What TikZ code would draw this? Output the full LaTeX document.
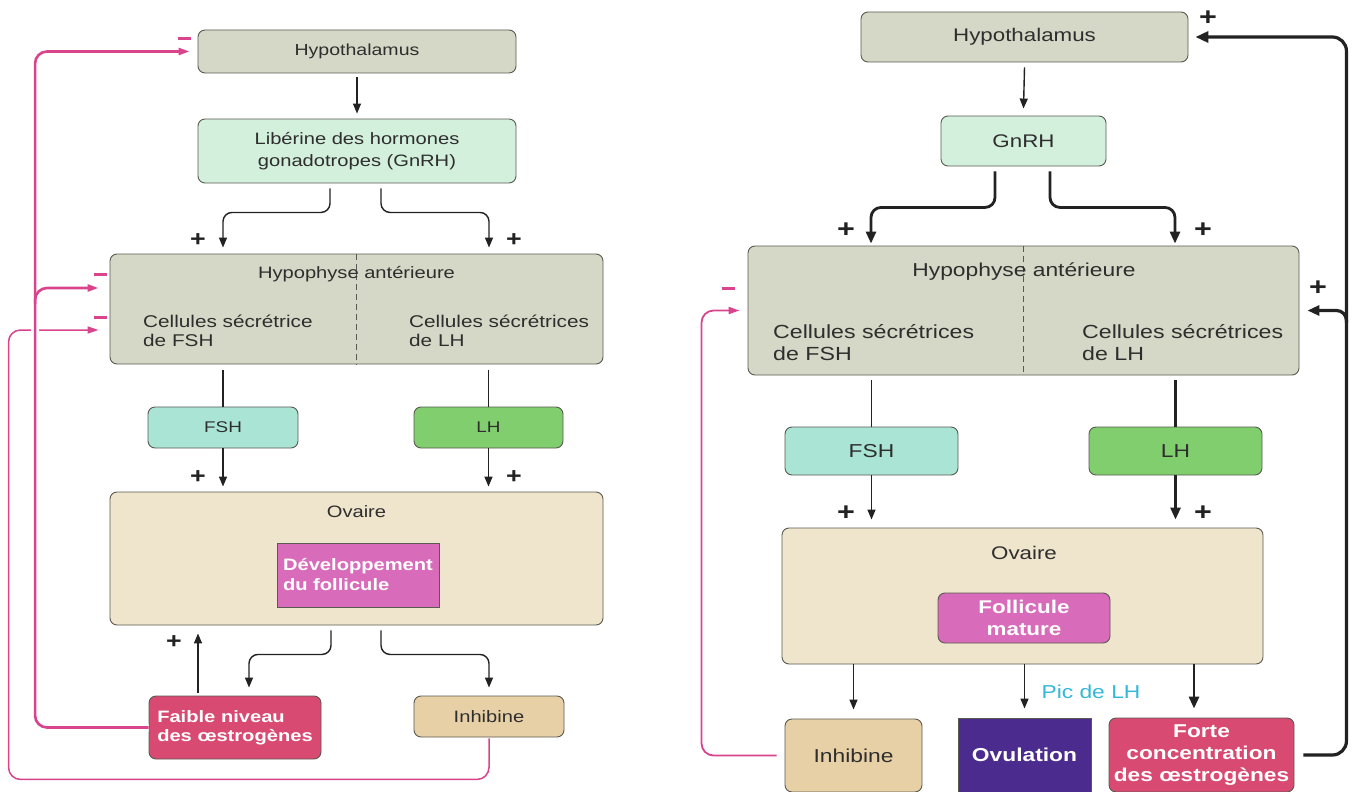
\documentclass[tikz,border=0pt]{standalone}
\usepackage{fontspec}
\setmainfont{Liberation Sans}[FakeStretch=1.22]
\usetikzlibrary{arrows.meta,calc}
\definecolor{hypc}{HTML}{D5D8C6}
\definecolor{gnc}{HTML}{D3F0DC}
\definecolor{fshc}{HTML}{A9E4D5}
\definecolor{lhc}{HTML}{80CE6E}
\definecolor{ovc}{HTML}{EFE4CC}
\definecolor{devc}{HTML}{D86CBA}
\definecolor{faic}{HTML}{D94A72}
\definecolor{inhc}{HTML}{E8D0A6}
\definecolor{ovuc}{HTML}{4B2C8E}
\definecolor{pinkc}{HTML}{D9448C}
\definecolor{picc}{HTML}{35B8D8}
\definecolor{boxline}{HTML}{5A5A52}
\definecolor{textc}{HTML}{2E2E2E}
\definecolor{linec}{HTML}{222222}
\newcommand\fsz[2]{\fontsize{#1}{#2}\selectfont}
\begin{document}
\begin{tikzpicture}[x=1pt,y=-1pt,
  box/.style={draw=boxline, line width=0.9pt, rounded corners=7pt, inner sep=0pt, text=textc},
  sqbox/.style={draw=boxline, line width=0.9pt, inner sep=0pt},
  lbl/.style={inner sep=0pt, text=textc},
  divider/.style={draw=boxline, line width=0.8pt, dash pattern=on 6pt off 4pt},
  plainln/.style={draw=linec, line width=1.4pt},
  plainthick/.style={draw=linec, line width=3pt},
  arr/.style={draw=linec, line width=1.4pt, -{Triangle[length=10pt,width=8pt]}},
  arrT/.style={draw=linec, line width=2.8pt, -{Triangle[length=12pt,width=10pt]}},
  pinkthick/.style={draw=pinkc, line width=2.6pt, rounded corners=12pt, -{Triangle[length=11pt,width=7pt]}},
  pinkthin/.style={draw=pinkc, line width=1.5pt, rounded corners=12pt, -{Triangle[length=11pt,width=7pt]}},
  plus/.style={inner sep=0pt, text=linec, font=\bfseries\fsz{22}{22}},
  plusR/.style={inner sep=0pt, text=linec, font=\bfseries\fsz{25}{25}},
  minus/.style={inner sep=0pt, fill=pinkc, minimum width=13pt, minimum height=3pt}
]
\useasboundingbox[fill=white] (0,0) rectangle (1366,792);

% ================= LEFT =================
\node[box, fill=hypc, minimum width=318pt, minimum height=43pt, font=\fsz{16}{19}] (hypL) at (357,51.5) {Hypothalamus};
\node[box, fill=gnc, minimum width=318pt, minimum height=64pt, align=center, font=\fsz{16.5}{21.5}] (libL) at (357,151) {Libérine des hormones\\gonadotropes (GnRH)};
\node[box, fill=hypc, minimum width=493pt, minimum height=110pt] (hpL) at (356.5,309) {};
\draw[divider] (hpL.north) -- (hpL.south);
\node[lbl, font=\fsz{16.5}{20}] (hpLt) at (356.5,274) {Hypophyse antérieure};
\node[lbl, anchor=west, align=left, font=\fsz{17}{18.5}] (hpLa) at (143,331) {Cellules sécrétrice\\de FSH};
\node[lbl, anchor=west, align=left, font=\fsz{17}{18.5}] (hpLb) at (409,331) {Cellules sécrétrices\\de LH};
\node[box, fill=fshc, minimum width=150pt, minimum height=41pt, font=\fsz{15.5}{18}] (fshL) at (223,427.5) {FSH};
\node[box, fill=lhc, minimum width=149pt, minimum height=41pt, font=\fsz{15.5}{18}] (lhL) at (488.5,427.5) {LH};
\node[box, fill=ovc, minimum width=493pt, minimum height=133pt] (ovL) at (356.5,558.5) {};
\node[lbl, font=\fsz{16.5}{20}] (ovLt) at (356.5,512) {Ovaire};
\node[sqbox, fill=devc, minimum width=162pt, minimum height=64pt, text=white, align=left, font=\bfseries\fsz{16.5}{20}] (devL) at (358,575) {Développement\\du follicule};
\node[box, fill=faic, minimum width=172pt, minimum height=63pt, text=white, align=left, font=\bfseries\fsz{16.5}{19}] (faiL) at (235,727.5) {Faible niveau\\des œstrogènes};
\node[box, fill=inhc, minimum width=150pt, minimum height=41pt, font=\fsz{16.5}{19}] (inhL) at (489,716.5) {Inhibine};

% connectors left
\draw[arr] ([yshift=-4pt]hypL.south) -- ([yshift=5pt]libL.north);
\draw[arr, rounded corners=9pt] ([xshift=-27pt,yshift=-5pt]libL.south) -- ++(0,24) -| ([xshift=-133.5pt,yshift=6pt]hpL.north);
\draw[arr, rounded corners=9pt] ([xshift=24pt,yshift=-5pt]libL.south) -- ++(0,24) -| ([xshift=132.5pt,yshift=6pt]hpL.north);
\node[plus] (pL1) at (198,240) {+};
\node[plus] (pL2) at (514,240) {+};
\draw[plainln] ([yshift=-6pt]hpL.south -| fshL.north) -- (fshL.north);
\draw[plainln] ([yshift=-6pt]hpL.south -| lhL.north) -- (lhL.north);
\draw[arr] (fshL.south) -- ([yshift=5pt]ovL.north -| fshL.south);
\draw[arr] (lhL.south) -- ([yshift=5pt]ovL.north -| lhL.south);
\node[plus] (pL3) at (198,477) {+};
\node[plus] (pL4) at (514,477) {+};
\coordinate (fupL) at ([xshift=-37pt,yshift=3pt]faiL.north);
\draw[arr] (fupL) -- ([yshift=-8pt]fupL |- ovL.south);
\node[plus] (pL5) at (174,642) {+};
\draw[arr, rounded corners=9pt] ([xshift=-25.5pt,yshift=-5pt]ovL.south) -- ++(0,24) -| ([xshift=14pt,yshift=8pt]faiL.north);
\draw[arr, rounded corners=9pt] ([xshift=24.5pt,yshift=-5pt]ovL.south) -- ++(0,24) -| ([yshift=8pt]inhL.north);

% pink feedback left
\draw[pinkthin] ([yshift=-1pt]inhL.south) -- ++(0,41) -| ([xshift=-101pt,yshift=-21pt]hpL.west) -- ([xshift=-11pt,yshift=-21pt]hpL.west);
\draw[pinkthick, preaction={draw=white, line width=8pt, -}] (faiL.west) -| ([xshift=-162.5pt]hypL.west) -- ([xshift=-8pt]hypL.west);
\draw[pinkthick] ([xshift=-74.5pt,yshift=5pt]hpL.west) |- ([xshift=-11pt,yshift=21pt]hpL.west);
\node[minus] (mL1) at (184,39) {};
\node[minus] (mL2) at (100,274) {};
\node[minus] (mL3) at (100,317) {};

% ================= RIGHT =================
\node[box, fill=hypc, minimum width=327pt, minimum height=50pt, font=\fsz{18.3}{21}] (hypR) at (1024.5,37) {Hypothalamus};
\node[box, fill=gnc, minimum width=165pt, minimum height=50pt, font=\fsz{18.3}{21}] (gnR) at (1023.5,141) {GnRH};
\node[box, fill=hypc, minimum width=551pt, minimum height=129pt] (hpR) at (1023.5,310.5) {};
\draw[divider] (hpR.north) -- (hpR.south);
\node[lbl, font=\fsz{18.7}{21}] (hpRt) at (1024,272) {Hypophyse antérieure};
\node[lbl, anchor=west, align=left, font=\fsz{19}{21.7}] (hpRa) at (773,342.5) {Cellules sécrétrices\\de FSH};
\node[lbl, anchor=west, align=left, font=\fsz{19}{21.7}] (hpRb) at (1082,342.5) {Cellules sécrétrices\\de LH};
\node[box, fill=fshc, minimum width=173pt, minimum height=48pt, font=\fsz{18.7}{21}] (fshR) at (871.5,451) {FSH};
\node[box, fill=lhc, minimum width=173pt, minimum height=48pt, font=\fsz{18.7}{21}] (lhR) at (1175.5,451) {LH};
\node[box, fill=ovc, minimum width=481pt, minimum height=136pt] (ovR) at (1022.5,596) {};
\node[lbl, font=\fsz{18.3}{21}] (ovRt) at (1024,553) {Ovaire};
\node[box, fill=devc, minimum width=172pt, minimum height=50pt, text=white, align=center, font=\bfseries\fsz{18.4}{21.3}] (folR) at (1024,618) {Follicule\\mature};
\node[box, fill=inhc, minimum width=137pt, minimum height=73pt, font=\fsz{18.7}{21}] (inhR) at (853.5,755.5) {Inhibine};
\node[sqbox, fill=ovuc, minimum width=133pt, minimum height=74pt, text=white, font=\bfseries\fsz{18.7}{21}] (ovuR) at (1024.5,755) {Ovulation};
\node[box, fill=faic, minimum width=185pt, minimum height=74pt, text=white, align=center, font=\bfseries\fsz{18.6}{22}] (forR) at (1201.5,755) {Forte\\concentration\\des œstrogènes};

% connectors right
\draw[arr] ([yshift=-5pt]hypR.south) -- ([yshift=7pt]gnR.north);
\draw[arrT, rounded corners=10pt] ([xshift=-28.5pt,yshift=-5pt]gnR.south) -- ++(0,36) -| ([xshift=-152.5pt,yshift=2pt]hpR.north);
\draw[arrT, rounded corners=10pt] ([xshift=26.5pt,yshift=-5pt]gnR.south) -- ++(0,36) -| ([xshift=151.5pt,yshift=2pt]hpR.north);
\node[plusR] (pR1) at (846,230) {+};
\node[plusR] (pR2) at (1203,230) {+};
\draw[plainln] ([yshift=-5pt]hpR.south -| fshR.north) -- (fshR.north);
\draw[plainthick] ([yshift=-5pt]hpR.south -| lhR.north) -- (lhR.north);
\draw[arr] (fshR.south) -- ([yshift=8pt]ovR.north -| fshR.south);
\draw[arrT] (lhR.south) -- ([yshift=8pt]ovR.north -| lhR.south);
\node[plusR] (pR3) at (846,513) {+};
\node[plusR] (pR4) at (1203,513) {+};
\draw[arr] (ovR.south -| inhR.north) -- ([yshift=9pt]inhR.north);
\draw[arr] (ovR.south -| ovuR.north) -- ([yshift=9pt]ovuR.north);
\draw[arrT] ([xshift=-7.5pt]ovR.south -| forR.north) -- ([xshift=-7.5pt,yshift=9pt]forR.north);
\node[inner sep=0pt, text=picc, font=\fsz{18.7}{21}] (pic) at (1091,692) {Pic de LH};

% feedback right
\draw[pinkthin, line width=1.8pt] ([xshift=-8pt]inhR.west) -| ([xshift=-46pt]hpR.west) -- ([xshift=-8pt]hpR.west);
\node[minus] (mR1) at (728,288) {};
\draw[draw=linec, line width=3.2pt, rounded corners=14pt, -{Triangle[length=13pt,width=11pt]}] ([xshift=9pt]forR.east) -| ([xshift=158pt]hypR.east) -- ([xshift=7pt]hypR.east);
\draw[draw=linec, line width=3.2pt, rounded corners=10pt, -{Triangle[length=12pt,width=10pt]}] ([xshift=47pt,yshift=-12pt]hpR.east) |- ([xshift=8pt]hpR.east);
\node[plusR] (pR5) at (1208,18) {+};
\node[plusR] (pR6) at (1318,288) {+};
\end{tikzpicture}
\end{document}
